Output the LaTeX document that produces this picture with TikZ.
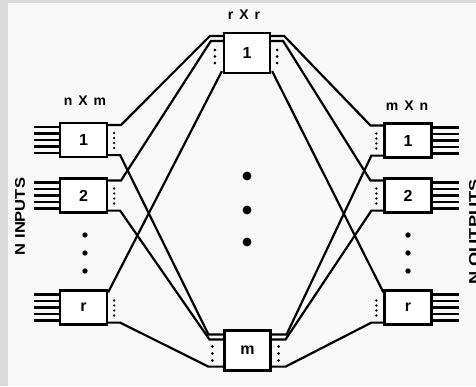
\documentclass[tikz,border=0pt]{standalone}
\usepackage{fontspec}
\setmainfont{Liberation Sans}
\usetikzlibrary{calc}
\definecolor{paper}{HTML}{F8F8F8}
\definecolor{frame}{HTML}{DADADA}
\tikzset{
  sbox/.style={draw, line width=2.2pt, fill=white, minimum width=47pt, minimum height=34pt, inner sep=0pt, font=\bfseries\fontsize{16}{16}\selectfont},
  mbox/.style={draw, line width=2.2pt, fill=white, minimum width=46pt, minimum height=40pt, inner sep=0pt, font=\bfseries\fontsize{16}{16}\selectfont},
  wire/.style={line width=2.2pt, line join=miter},
  lead/.style={line width=2.2pt},
  tag/.style={font=\bfseries\fontsize{14}{14}\selectfont, inner sep=0pt},
  side/.style={font=\bfseries\fontsize{14}{14}\selectfont, inner sep=0pt, rotate=90}
}
\begin{document}
\begin{tikzpicture}[x=1pt, y=-1pt]
  % page and frame
  \useasboundingbox (0,0) rectangle (476,386);
  \clip (0,0) rectangle (476,386);
  \fill[frame] (0,0) rectangle (476,386);
  \fill[paper] (8,3) rectangle (476,386);

  % first stage (n x m)
  \node[sbox] (L1) at (83.5,140) {1};
  \node[sbox] (L2) at (83.5,195.5) {2};
  \node[sbox] (Lr) at (83.5,307.5) {r};
  % middle stage (r x r)
  \node[mbox] (M1) at (247,53) {1};
  \node[mbox] (Mm) at (247.5,350.5) {m};
  % last stage (m x n)
  \node[sbox] (R1) at (408,140.5) {1};
  \node[sbox] (R2) at (408,195.5) {2};
  \node[sbox] (Rr) at (408,307.5) {r};

  % stage captions
  \node[tag] (cl) at (85,101) {n\hspace{6pt}X\hspace{6pt}m};
  \node[tag] (cm) at (244,15) {r\hspace{6pt}X\hspace{6pt}r};
  \node[tag] (cr) at (407,106) {m\hspace{6pt}X\hspace{6pt}n};
  \node[side] (ni) at (20,216.5) {\scalebox{1.18}[1]{N INPUTS}};
  \node[side] (no) at (474,232) {\scalebox{1.3}[1]{N OUTPUTS}};

  % input and output leads
  \foreach \b in {L1,L2,Lr}
    \foreach \k in {-2,...,2}
      \draw[lead] ($(\b.west)+(0,\k*6.5)$) -- ++(-25,0);
  \foreach \b in {R1,R2,Rr}
    \foreach \k in {-2,...,2}
      \draw[lead] ($(\b.east)+(0,\k*6.5)$) -- ++(26,0);

  % port dots beside the small switches
  \foreach \b in {L1,L2,Lr}
    \foreach \k in {0,...,3}
      \fill ($(\b.east)+(6,-7+\k*5)$) circle (1.3);
  \foreach \b in {R1,R2,Rr}
    \foreach \k in {0,...,3}
      \fill ($(\b.west)+(-7,-7+\k*5)$) circle (1.3);
  % port dots beside the middle switches
  \foreach \k in {0,...,2} {
    \fill ($(M1.west)+(-8,-3+\k*6.5)$) circle (1.5);
    \fill ($(M1.east)+(6,-3+\k*6.5)$) circle (1.5);
    \fill ($(Mm.west)+(-11,-4+\k*7)$) circle (1.5);
    \fill ($(Mm.east)+(7,-4+\k*7)$) circle (1.5);
  }
  % dots between switches
  \foreach \y in {235,253,271} {
    \fill (85,\y) circle (2.7);
    \fill (408,\y) circle (2.7);
  }
  \foreach \y in {176,210,242}
    \fill (247,\y) circle (4.4);

  % ports of the first stage
  \foreach \b in {L1,L2,Lr} {
    \coordinate (\b t) at ($(\b.north east)+(0,3)$);
    \coordinate (\b ts) at ($(\b t)+(13,0)$);
    \coordinate (\b b) at ($(\b.south east)+(0,-3)$);
    \coordinate (\b bs) at ($(\b b)+(12,0)$);
  }
  % ports of the last stage
  \foreach \b in {R1,R2,Rr} {
    \coordinate (\b t) at ($(\b.north west)+(0,3)$);
    \coordinate (\b ts) at ($(\b t)+(-13,0)$);
    \coordinate (\b b) at ($(\b.south west)+(0,-3)$);
    \coordinate (\b bs) at ($(\b b)+(-12,0)$);
  }
  % ports of the middle stage
  \coordinate (M1a) at ($(M1.north west)+(0,4)$);
  \coordinate (M1as) at ($(M1a)+(-13,0)$);
  \coordinate (M1b) at ($(M1.north west)+(0,9)$);
  \coordinate (M1bs) at ($(M1b)+(-12,0)$);
  \coordinate (M1c) at ($(M1.south west)+(-1,-3)$);
  \coordinate (M1x) at ($(M1.north east)+(0,4)$);
  \coordinate (M1xs) at ($(M1x)+(13,0)$);
  \coordinate (M1y) at ($(M1.north east)+(0,9)$);
  \coordinate (M1ys) at ($(M1y)+(12,0)$);
  \coordinate (M1z) at ($(M1.south east)+(1,-3)$);

  \coordinate (Mma) at ($(Mm.north west)+(0,5)$);
  \coordinate (Mmas) at ($(Mma)+(-15,0)$);
  \coordinate (Mmb) at ($(Mm.north west)+(0,10)$);
  \coordinate (Mmbs) at ($(Mmb)+(-14,0)$);
  \coordinate (Mmc) at ($(Mm.south west)+(0,-5)$);
  \coordinate (Mmcs) at ($(Mmc)+(-15,0)$);
  \coordinate (Mmx) at ($(Mm.north east)+(0,5)$);
  \coordinate (Mmxs) at ($(Mmx)+(15,0)$);
  \coordinate (Mmy) at ($(Mm.north east)+(0,10)$);
  \coordinate (Mmys) at ($(Mmy)+(14,0)$);
  \coordinate (Mmz) at ($(Mm.south east)+(0,-5)$);
  \coordinate (Mmzs) at ($(Mmz)+(14,0)$);

  % first stage to middle stage
  \draw[wire] (L1t) -- (L1ts) -- (M1as) -- (M1a);
  \draw[wire] (L2t) -- (L2ts) -- (M1bs) -- (M1b);
  \draw[wire] (Lrt) -- (M1c);
  \draw[wire] (L1b) -- (L1bs) -- (Mmas) -- (Mma);
  \draw[wire] (L2b) -- (L2bs) -- (Mmbs) -- (Mmb);
  \draw[wire] (Lrb) -- (Lrbs) -- (Mmcs) -- (Mmc);
  % middle stage to last stage
  \draw[wire] (M1x) -- (M1xs) -- (R1ts) -- (R1t);
  \draw[wire] (M1y) -- (M1ys) -- (R2ts) -- (R2t);
  \draw[wire] (M1z) -- (Rrt);
  \draw[wire] (Mmx) -- (Mmxs) -- (R1bs) -- (R1b);
  \draw[wire] (Mmy) -- (Mmys) -- (R2bs) -- (R2b);
  \draw[wire] (Mmz) -- (Mmzs) -- (Rrbs) -- (Rrb);
\end{tikzpicture}
\end{document}
